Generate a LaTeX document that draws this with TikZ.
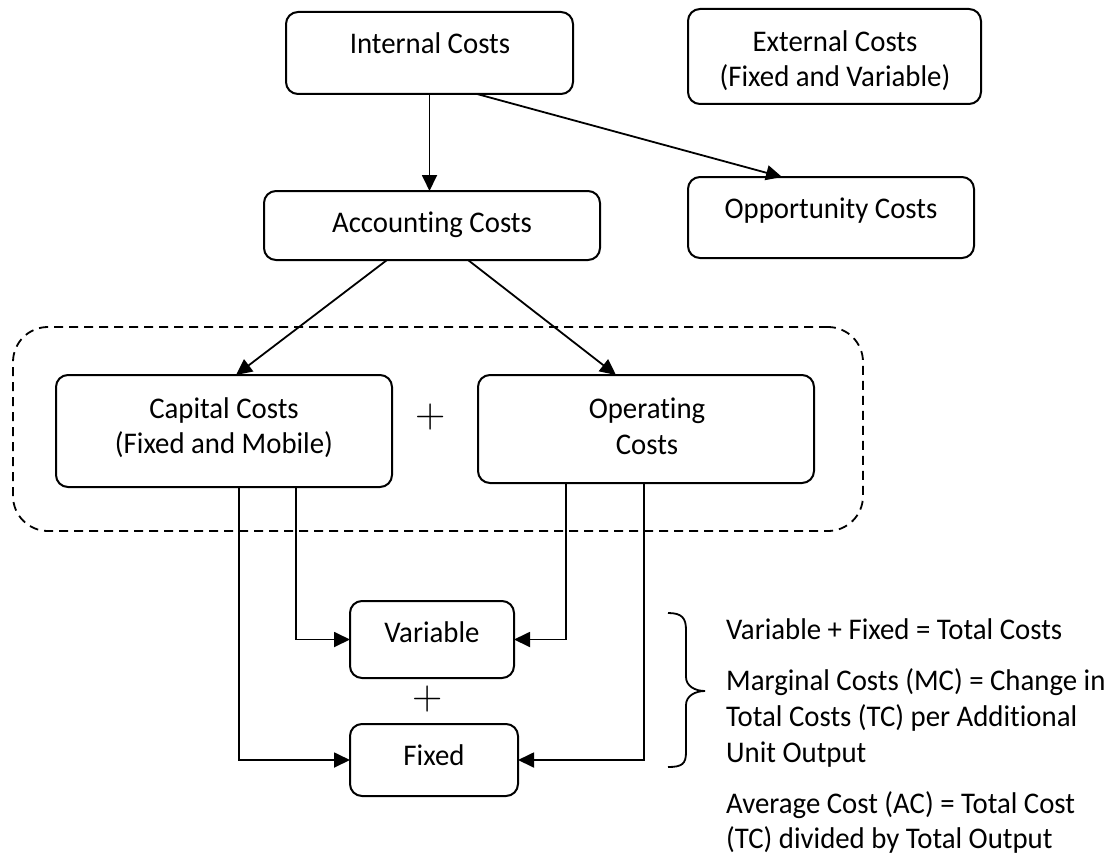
\documentclass[tikz,border=0pt]{standalone}
\usepackage{fontspec}
\setsansfont{Carlito}[FakeStretch=0.96,Ligatures=NoCommon]
\usetikzlibrary{arrows.meta}
\begin{document}
\begin{tikzpicture}[x=1pt,y=-1pt]
\tikzset{
  box/.style={draw, line width=2pt, rounded corners=12pt, inner sep=0pt, outer sep=0pt},
  lbl/.style={font=\sffamily\fontsize{30}{36}\selectfont, anchor=base, inner sep=0pt},
  note/.style={font=\sffamily\fontsize{30}{36}\selectfont, anchor=base west, inner sep=0pt},
  conn/.style={line width=1.8pt},
  arr/.style={conn, -{Triangle[length=16pt,width=15pt]}},
  plussign/.style={font=\rmfamily\fontsize{42}{42}\selectfont, inner sep=0pt},
  groupbox/.style={draw, dash pattern=on 9pt off 6pt, line width=1.8pt, rounded corners=35pt, inner sep=0pt}
}
\useasboundingbox (0,0) rectangle (1115,856);

% top row
\node[box, minimum width=287pt, minimum height=82pt] (int) at (429.5,53) {};
\node[lbl] (intT) at (430,54) {Internal Costs};
\node[box, minimum width=293pt, minimum height=95pt] (ext) at (834.5,56.5) {};
\node[lbl] (extT1) at (835,52) {External Costs};
\node[lbl] (extT2) at (835,87) {(Fixed and Variable)};

% second row
\node[box, minimum width=336pt, minimum height=69pt] (acc) at (432,225.5) {};
\node[lbl] (accT) at (432,232) {Accounting Costs};
\node[box, minimum width=286pt, minimum height=81pt] (opp) at (831,217.5) {};
\node[lbl] (oppT) at (831,218) {Opportunity Costs};

% group
\node[groupbox, minimum width=850pt, minimum height=204pt] (group) at (438,429) {};
\node[box, minimum width=336pt, minimum height=112pt] (cap) at (224,431) {};
\node[lbl] (capT1) at (224,418) {Capital Costs};
\node[lbl] (capT2) at (224,453) {(Fixed and Mobile)};
\node[box, minimum width=336pt, minimum height=108pt] (ope) at (646,429) {};
\node[lbl] (opeT1) at (647,418) {Operating};
\node[lbl] (opeT2) at (647,454) {Costs};
\node[plussign] (p1) at (431,417) {+};

% bottom
\node[box, minimum width=164pt, minimum height=77pt] (var) at (432,639.5) {};
\node[lbl] (varT) at (432,642) {Variable};
\node[plussign] (p2) at (428,699) {+};
\node[box, minimum width=168pt, minimum height=72pt] (fix) at (434,760) {};
\node[lbl] (fixT) at (434,765) {Fixed};

% connectors
\draw[arr] (int.south) -- (int.south |- acc.north);
\draw[arr] ([xshift=47.5pt]int.south) -- ([xshift=-49pt]opp.north);
\draw[arr] ([xshift=-45pt]acc.south) -- ([xshift=12pt]cap.north);
\draw[arr] ([xshift=36pt]acc.south) -- ([xshift=-30pt]ope.north);
\draw[arr] ([xshift=15pt]cap.south) |- (fix.west);
\draw[arr] ([xshift=72pt]cap.south) |- (var.west);
\draw[arr] ([xshift=-80pt]ope.south) |- (var.east);
\draw[arr] ([xshift=-2pt]ope.south) |- (fix.east);

% brace
\draw[conn] (668,613) .. controls (682,613) and (686,618) .. (686,630)
  -- (686,677) .. controls (686,686) and (695,691) .. (705,691)
  .. controls (695,691) and (686,696) .. (686,705)
  -- (686,752) .. controls (686,764) and (682,767) .. (668,767);

% notes
\node[note] (n1) at (726,639) {Variable + Fixed = Total Costs};
\node[note] (n2) at (726,690) {Marginal Costs (MC) = Change in};
\node[note] (n3) at (726,726) {Total Costs (TC) per Additional};
\node[note] (n4) at (726,762) {Unit Output};
\node[note] (n5) at (726,813) {Average Cost (AC) = Total Cost};
\node[note] (n6) at (726,848) {(TC) divided by Total Output};
\end{tikzpicture}
\end{document}
